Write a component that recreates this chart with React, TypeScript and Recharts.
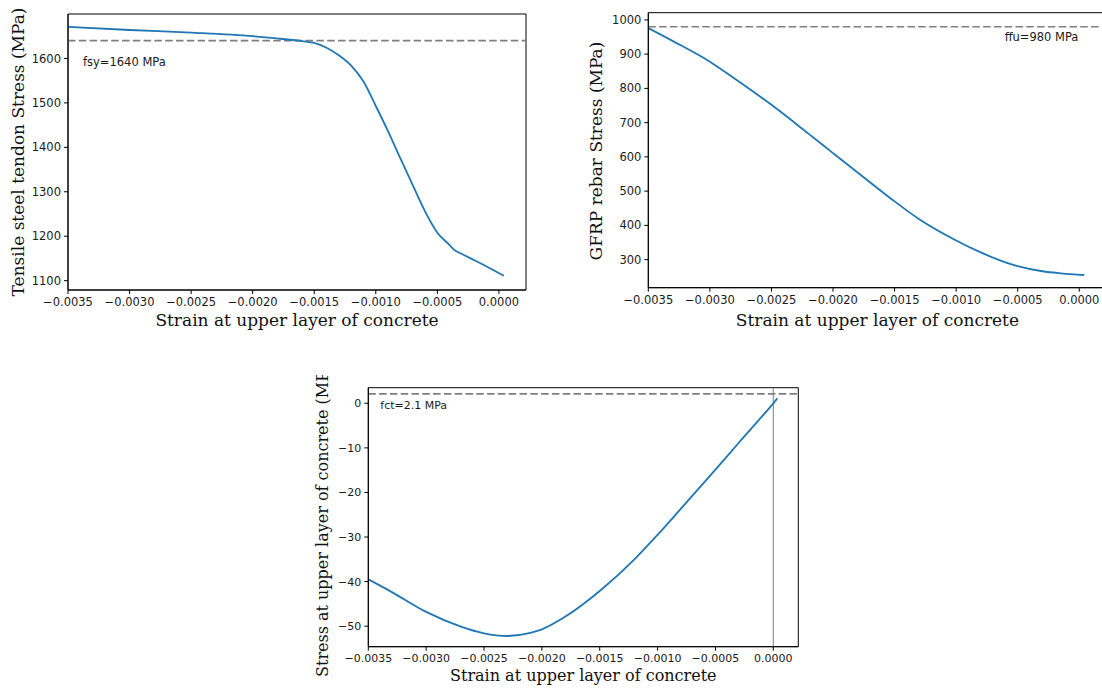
import React from 'react';
import { LineChart, Line, XAxis, YAxis, ReferenceLine, ReferenceArea } from 'recharts';

// ---------- data ----------
const strainTicks = [-0.0035, -0.003, -0.0025, -0.002, -0.0015, -0.001, -0.0005, 0];

const tendonStrain = [-0.0035, -0.003, -0.0025, -0.002, -0.0018, -0.0016, -0.0015, -0.0014, -0.0013, -0.0012, -0.0011, -0.001, -0.0009, -0.0008, -0.0007, -0.0006, -0.0005, -0.0004, -0.00037, -0.0003, -0.0002, -0.0001, 0.00004];
const tendonStress = [1671, 1664, 1658, 1650, 1645, 1639, 1635, 1624, 1607, 1584, 1548, 1493, 1436, 1375, 1315, 1256, 1208, 1180, 1171, 1160, 1146, 1132, 1111];
const tendonTicks = [1100, 1200, 1300, 1400, 1500, 1600];
const fsy = 1640;

const gfrpStrain = [-0.0035, -0.0033, -0.003, -0.0028, -0.0025, -0.0022, -0.002, -0.0017, -0.0015, -0.0013, -0.001, -0.0008, -0.0006, -0.0005, -0.0003, -0.00015, 0.00004];
const gfrpStress = [976, 938, 878, 829, 752, 668, 611, 526, 470, 418, 356, 321, 292, 281, 266, 260, 255];
const gfrpTicks = [300, 400, 500, 600, 700, 800, 900, 1000];
const ffu = 980;

const concreteStrain = [-0.0035, -0.0033, -0.003, -0.0027, -0.0025, -0.0023, -0.0021, -0.002, -0.0018, -0.0015, -0.0012, -0.001, -0.0008, -0.0005, -0.0003, 0, 0.000035];
const concreteStress = [-39.5, -42.3, -46.8, -50.1, -51.6, -52.2, -51.5, -50.7, -47.9, -42.1, -35.0, -29.5, -23.7, -14.9, -8.9, 0, 1.1];
const concreteTicks = [-50, -40, -30, -20, -10, 0];
const fct = 2.1;

const xLabel = 'Strain at upper layer of concrete';

// ---------- helpers ----------
const MINUS = '\u2212';
const fmtStrain = (v: number) => (v < -1e-12 ? MINUS : '') + Math.abs(v).toFixed(4);
const fmtInt = (v: number) => (v < 0 ? MINUS : '') + Math.abs(Math.round(v));

const TICK_FONT = 'DejaVu Sans, sans-serif';
const LABEL_FONT = 'DejaVu Serif, serif';

type PanelProps = {
  left: number; top: number; width: number; height: number;
  plot: { x0: number; x1: number; y0: number; y1: number };
  xs: number[]; ys: number[];
  xDomain: [number, number]; yDomain: [number, number]; yTicks: number[];
  refY: number; refText: string; refAnchor: 'start' | 'end'; refDx: number; refDy: number;
  vline?: boolean;
  tickFont: number; labelFont: number;
  yLabel: string; yLabelX: number; yLabelY: number; yLabelAnchor: 'middle' | 'start';
  xLabelX: number; xLabelY: number;
};

function Panel(p: PanelProps) {
  const data = p.xs.map((x, i) => ({ x, y: p.ys[i] }));
  const xh = 40;
  const rightPad = 6;
  const chartW = p.plot.x1 + rightPad;
  const chartH = p.plot.y1 + xh;
  const tickStyle = { fill: '#1a1a1a', fontSize: p.tickFont, fontFamily: TICK_FONT };
  const renderRef = (props: any) => {
    const vb = props.viewBox || {};
    const x = p.refAnchor === 'start' ? vb.x + p.refDx : vb.x + (vb.width || 0) - p.refDx;
    return (
      <text x={x} y={vb.y + p.refDy} textAnchor={p.refAnchor} fontSize={p.tickFont} fontFamily={TICK_FONT} fill="#1a1a1a">
        {p.refText}
      </text>
    );
  };
  return (
    <div style={{ position: 'absolute', left: p.left, top: p.top, width: p.width, height: p.height, overflow: 'hidden' }}>
      <LineChart width={chartW} height={chartH} data={data} margin={{ top: p.plot.y0, right: rightPad, left: 0, bottom: 0 }}>
        <XAxis
          type="number" dataKey="x" domain={p.xDomain} ticks={strainTicks} allowDataOverflow interval={0}
          height={xh} tickFormatter={fmtStrain} tick={tickStyle} tickSize={4} tickMargin={4}
          stroke="#000" axisLine={{ stroke: '#000' }} tickLine={{ stroke: '#000' }}
        />
        <YAxis
          type="number" domain={p.yDomain} ticks={p.yTicks} allowDataOverflow interval={0}
          width={p.plot.x0} tickFormatter={fmtInt} tick={tickStyle} tickSize={4} tickMargin={3}
          stroke="#000" axisLine={{ stroke: '#000' }} tickLine={{ stroke: '#000' }}
        />
        <ReferenceArea x1={p.xDomain[0]} x2={p.xDomain[1]} y1={p.yDomain[0]} y2={p.yDomain[1]}
          fill="none" fillOpacity={0} stroke="#000" strokeWidth={1} strokeOpacity={1} ifOverflow="visible" />
        {p.vline ? <ReferenceLine x={0} stroke="#808080" strokeWidth={1} /> : null}
        <ReferenceLine y={p.refY} stroke="#7f7f7f" strokeWidth={1.7} strokeDasharray="7.5 3.3" label={renderRef} />
        <Line type="monotone" dataKey="y" stroke="#1f77b4" strokeWidth={1.8} dot={false} isAnimationActive={false} />
      </LineChart>
      <svg width={p.width} height={p.height} style={{ position: 'absolute', left: 0, top: 0, pointerEvents: 'none' }}>
        <text
          x={p.yLabelX} y={p.yLabelY} textAnchor={p.yLabelAnchor}
          transform={`rotate(-90 ${p.yLabelX} ${p.yLabelY})`}
          fontSize={p.labelFont} fontFamily={LABEL_FONT} fill="#111"
        >{p.yLabel}</text>
        <text x={p.xLabelX} y={p.xLabelY} textAnchor="middle" fontSize={p.labelFont} fontFamily={LABEL_FONT} fill="#111">
          {xLabel}
        </text>
      </svg>
    </div>
  );
}

export default function App() {
  return (
    <div style={{ position: 'absolute', left: 0, top: 0, width: 1102, height: 688, overflow: 'hidden', background: '#fff' }}>
      <Panel
        left={0} top={0} width={560} height={375}
        plot={{ x0: 68, x1: 526, y0: 14, y1: 290 }}
        xs={tendonStrain} ys={tendonStress}
        xDomain={[-0.0035, 0.00022]} yDomain={[1079, 1700]} yTicks={tendonTicks}
        refY={fsy} refText="fsy=1640 MPa" refAnchor="start" refDx={15} refDy={25}
        tickFont={11.5} labelFont={17}
        yLabel="Tensile steel tendon Stress (MPa)" yLabelX={24} yLabelY={152} yLabelAnchor="middle"
        xLabelX={297} xLabelY={326}
      />
      <Panel
        left={560} top={0} width={542} height={375}
        plot={{ x0: 88.3, x1: 546.4, y0: 12.7, y1: 287.7 }}
        xs={gfrpStrain} ys={gfrpStress}
        xDomain={[-0.0035, 0.00022]} yDomain={[218, 1021]} yTicks={gfrpTicks}
        refY={ffu} refText="ffu=980 MPa" refAnchor="end" refDx={28} refDy={14}
        tickFont={11.5} labelFont={17}
        yLabel="GFRP rebar Stress (MPa)" yLabelX={42} yLabelY={151} yLabelAnchor="middle"
        xLabelX={317.4} xLabelY={326}
      />
      <Panel
        left={300} top={375} width={520} height={313}
        plot={{ x0: 68.3, x1: 498.3, y0: 12.7, y1: 271.7 }}
        xs={concreteStrain} ys={concreteStress}
        xDomain={[-0.0035, 0.000216]} yDomain={[-54.6, 3.5]} yTicks={concreteTicks}
        refY={fct} refText="fct=2.1 MPa" refAnchor="start" refDx={12} refDy={15}
        vline
        tickFont={11} labelFont={16}
        yLabel="Stress at upper layer of concrete (MPa)" yLabelX={28} yLabelY={302} yLabelAnchor="start"
        xLabelX={283.3} xLabelY={306}
      />
    </div>
  );
}
